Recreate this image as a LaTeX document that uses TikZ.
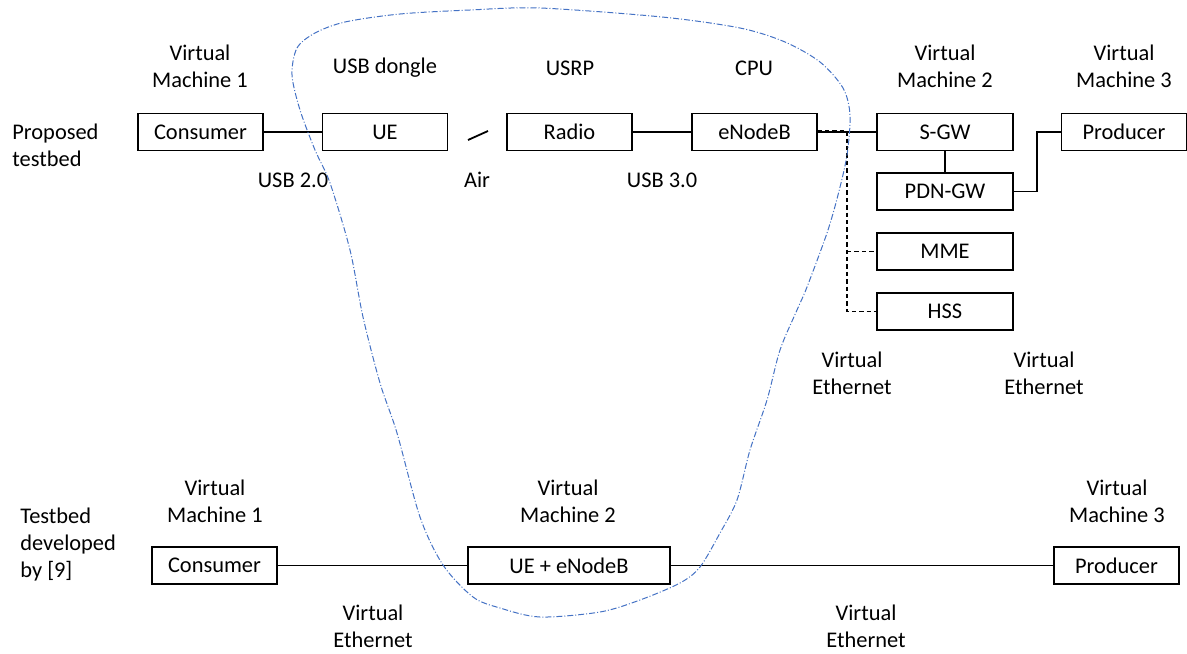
\documentclass[tikz,border=0pt]{standalone}
\usepackage{fontspec}
\setmainfont{Carlito}
\usetikzlibrary{calc}

\definecolor{blobblue}{RGB}{68,114,196}

\tikzset{
	box/.style={draw, line width=0.65pt, minimum width=62.5pt, minimum height=18.5pt, inner sep=0pt},
	lbl/.style={align=center, inner sep=0pt},
	link/.style={line width=0.9pt},
	ctrl/.style={line width=0.9pt, dash pattern=on 2.2pt off 1.5pt}
}

\begin{document}
\begin{tikzpicture}[x=0.5pt, y=-0.5pt, font=\fontsize{11.2}{13.5}\selectfont]

\useasboundingbox (0,0) rectangle (1187,653);

% proposed testbed
\node[lbl, anchor=west, align=left] (prop) at (12,145.5) {Proposed\\testbed};

\node[box] (cons1) at (200.5,132) {Consumer};
\node[box] (ue)    at (385,132)   {UE};
\node[box] (radio) at (569.5,132) {Radio};
\node[box] (enb)   at (754.5,132) {eNodeB};
\node[box] (prod1) at (1124,132)  {Producer};

\foreach \n/\t/\y in {sgw/S-GW/132, pdn/PDN-GW/191.5, mme/MME/251.5, hss/HSS/311.5}
{
	\node[box, minimum width=68pt] (\n) at (945,\y) {\t};
}

\node[lbl] (vm1a)   at (200,66.5)  {Virtual\\Machine 1};
\node[lbl] (dongle) at (385,68)    {USB dongle};
\node[lbl] (usrp)   at (570,68)    {USRP};
\node[lbl] (cpu)    at (754,68)    {CPU};
\node[lbl] (vm2a)   at (945,66.5)  {Virtual\\Machine 2};
\node[lbl] (vm3a)   at (1124,66.5) {Virtual\\Machine 3};

\node[lbl] (usb2) at (293,180) {USB 2.0};
\node[lbl] (air)  at (477,180) {Air};
\node[lbl] (usb3) at (662,180) {USB 3.0};

\node[lbl] (veth1) at (852,373.5)  {Virtual\\Ethernet};
\node[lbl] (veth2) at (1044,373.5) {Virtual\\Ethernet};

\coordinate (tap)  at (847,131);
\coordinate (bend) at (1037,132);

\draw[link] (cons1) -- (ue);
\draw[line width=0.9pt] (468,140) -- (488,131);
\draw[link] (radio) -- (enb);
\draw[link] (enb) -- (sgw);
\draw[link] (sgw) -- (pdn);
\draw[link] (pdn.east) -| (bend) -- (prod1.west);

\draw[ctrl] (enb.east |- tap) -- (tap) |- (hss.west);
\draw[ctrl] (tap |- mme.west) -- (mme.west);

% testbed of [9]
\node[lbl, anchor=west, align=left] (old) at (20,545) {Testbed\\developed\\by [9]};

\node[box] (cons2) at (214.5,565.5) {Consumer};
\node[box, minimum width=101pt] (uenb) at (569,565.5) {UE + eNodeB};
\node[box] (prod2) at (1116.5,565.5) {Producer};

\node[lbl] (vm1b) at (215,501)  {Virtual\\Machine 1};
\node[lbl] (vm2b) at (568,501)  {Virtual\\Machine 2};
\node[lbl] (vm3b) at (1117,501) {Virtual\\Machine 3};

\node[lbl] (veth3) at (373,626.5) {Virtual\\Ethernet};
\node[lbl] (veth4) at (866,626.5) {Virtual\\Ethernet};

\draw[link] (cons2) -- (uenb);
\draw[link] (uenb) -- (prod2);

% hardware outline
\begin{scope}[blobblue]
\draw[line width=0.5pt, dash pattern=on 3pt off 1pt on 0.5pt off 1pt]
	plot[smooth cycle, tension=0.5] coordinates {
	(292,75) (297,48) (315,33) (345,22) (400,14) (470,10) (540,8) (662,17)
	(740,28) (785,42) (820,62) (843,88) (850,115) (847,155) (838,195) (827,233)
	(807,287) (797,310) (780,350) (767,400) (750,450) (737,500) (720,533) (700,567)
	(680,583) (640,600) (600,612) (540,617) (500,608) (473,597) (443,565) (420,517)
	(397,433) (380,383) (363,317) (350,250) (330,183) (315,150) (300,110)};
\end{scope}

\end{tikzpicture}
\end{document}
